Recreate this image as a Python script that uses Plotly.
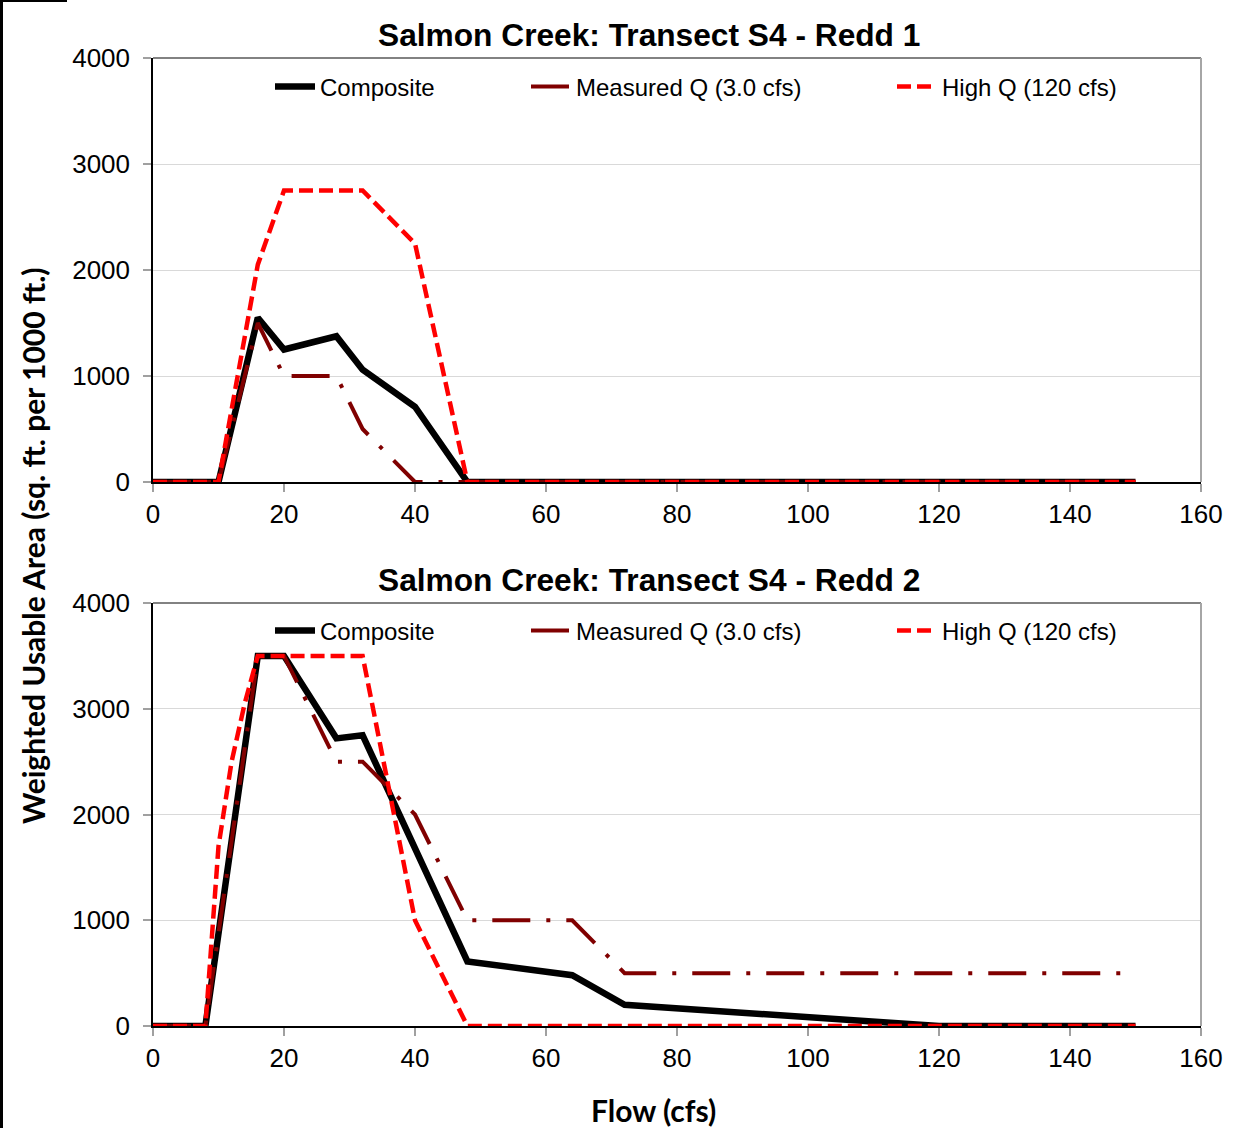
import plotly.graph_objects as go

# ---- data ----
flows = [0, 8, 10, 12, 14, 16, 20, 28, 32, 40, 48, 64, 72, 120, 150]

redd1_composite = [0, 0, 0, None, None, 1550, 1250, 1375, 1060, 710, 0, 0, 0, 0, 0]
redd1_measured = [0, 0, 0, None, None, 1500, 1000, 1000, 500, 0, 0, 0, 0, 0, 0]
redd1_highq = [0, 0, 0, None, None, 2050, 2750, 2750, 2750, 2250, 0, 0, 0, 0, 0]

redd2_composite = [0, 0, None, None, None, 3500, 3500, 2720, 2750, None, 610, 480, 200, 0, 0]
redd2_measured = [0, 0, None, None, None, 3500, 3500, 2500, 2500, 2000, 1000, 1000, 500, 500, 500]
redd2_highq = [0, 0, 1700, 2500, 3050, 3500, 3500, 3500, 3500, 1000, 0, 0, 0, 0, 0]

series_names = ["Composite", "Measured Q (3.0 cfs)", "High Q (120 cfs)"]
titles = ["Salmon Creek: Transect S4 - Redd 1", "Salmon Creek: Transect S4 - Redd 2"]
x_ticks = [0, 20, 40, 60, 80, 100, 120, 140, 160]
y_ticks = [0, 1000, 2000, 3000, 4000]

# ---- styles ----
styles = [
    dict(color="#000000", width=6.5, dash="solid"),
    dict(color="#800000", width=4, dash="38px,16px,4px,16px"),
    dict(color="#FF0000", width=4.5, dash="14px,6px"),
]

fig = go.Figure()
panels = [
    ([redd1_composite, redd1_measured, redd1_highq], "x", "y", ["legend", "legend3", "legend5"]),
    ([redd2_composite, redd2_measured, redd2_highq], "x2", "y2", ["legend2", "legend4", "legend6"]),
]
for vals, xa, ya, legs in panels:
    for name, v, st, leg in zip(series_names, vals, styles, legs):
        fig.add_trace(go.Scatter(
            x=flows, y=v, name=name, mode="lines", connectgaps=True,
            line=dict(color=st["color"], width=st["width"], dash=st["dash"]),
            xaxis=xa, yaxis=ya, legend=leg, showlegend=True,
        ))

W, H = 1247, 1128
ml, mr, mt, mb = 153, 46, 58, 102
pw = W - ml - mr
ph = H - mt - mb

def py(p):  # pixel y -> paper y
    return (H - mb - p) / ph

def px(p):  # pixel x -> paper x
    return (p - ml) / pw

tickfont = dict(family="Liberation Sans, Arial", size=26, color="#000000")
xax = dict(range=[0, 160], tickvals=x_ticks, showgrid=False, zeroline=False,
           showline=True, linecolor="#000000", linewidth=1.5,
           ticks="outside", ticklen=8, tickcolor="#a0a0a0", tickwidth=1.5,
           tickfont=tickfont, ticklabelstandoff=0, fixedrange=True)
yax = dict(range=[0, 4000], tickvals=y_ticks, showgrid=True, gridcolor="#d9d9d9",
           gridwidth=1, zeroline=False, showline=True, linecolor="#000000", linewidth=1.5,
           ticks="outside", ticklen=8, tickcolor="#a0a0a0", tickwidth=1.5,
           tickfont=tickfont, ticklabelstandoff=8, fixedrange=True)

top_dom = [py(482), 1.0]
bot_dom = [0.0, py(603)]

legfont = dict(family="Liberation Sans, Arial", size=24, color="#000000")
leg_common = dict(orientation="h", xanchor="left", yanchor="middle",
                  font=legfont, bgcolor="rgba(0,0,0,0)", itemwidth=40)

legend_x = [270, 526, 892]
legend_y = [87, 631]

fig.update_layout(
    width=W, height=H,
    margin=dict(l=ml, r=mr, t=mt, b=mb),
    paper_bgcolor="#ffffff", plot_bgcolor="#ffffff",
    xaxis=dict(**xax, domain=[0, 1], anchor="y"),
    yaxis=dict(**yax, domain=top_dom, anchor="x"),
    xaxis2=dict(**xax, domain=[0, 1], anchor="y2"),
    yaxis2=dict(**yax, domain=bot_dom, anchor="x2"),
    legend=dict(**leg_common, x=px(legend_x[0]), y=py(legend_y[0])),
    legend2=dict(**leg_common, x=px(legend_x[0]), y=py(legend_y[1])),
    legend3=dict(**leg_common, x=px(legend_x[1]), y=py(legend_y[0])),
    legend4=dict(**leg_common, x=px(legend_x[1]), y=py(legend_y[1])),
    legend5=dict(**leg_common, x=px(legend_x[2]), y=py(legend_y[0])),
    legend6=dict(**leg_common, x=px(legend_x[2]), y=py(legend_y[1])),
    showlegend=True,
)

titlefont = dict(family="Liberation Sans, Arial", size=31.7, color="#000000")
axtitlefont = dict(family="Lato, Liberation Sans", size=30, color="#000000")
annotations = [
    dict(text="<b>%s</b>" % titles[0], x=px(649), y=py(35), xref="paper", yref="paper",
         showarrow=False, xanchor="center", yanchor="middle", font=titlefont),
    dict(text="<b>%s</b>" % titles[1], x=px(649), y=py(580), xref="paper", yref="paper",
         showarrow=False, xanchor="center", yanchor="middle", font=titlefont),
    dict(text="<b>Weighted Usable Area (sq. ft. per 1000 ft.)</b>", x=px(33), y=py(546),
         xref="paper", yref="paper", showarrow=False, textangle=-90,
         xanchor="center", yanchor="middle", font=axtitlefont),
    dict(text="<b>Flow (cfs)</b>", x=px(653), y=py(1110), xref="paper", yref="paper",
         showarrow=False, xanchor="center", yanchor="middle", font=axtitlefont),
]
fig.update_layout(annotations=annotations)

shapes = []
for xr, yr in [("x", "y"), ("x2", "y2")]:
    # top border (dark gray) and right border (gray) of each plot area
    shapes.append(dict(type="line", xref=xr + " domain", yref=yr + " domain",
                       x0=0, x1=1, y0=1, y1=1, line=dict(color="#595959", width=1.5)))
    shapes.append(dict(type="line", xref=xr + " domain", yref=yr + " domain",
                       x0=1, x1=1, y0=0, y1=1, line=dict(color="#a6a6a6", width=2)))
# outer frame fragments of the original image
shapes.append(dict(type="line", xref="paper", yref="paper", x0=px(1.5), x1=px(1.5),
                   y0=py(0), y1=py(H), line=dict(color="#000000", width=3)))
shapes.append(dict(type="line", xref="paper", yref="paper", x0=px(0), x1=px(67),
                   y0=py(1), y1=py(1), line=dict(color="#000000", width=2)))
fig.update_layout(shapes=shapes)

fig.write_html("out.html", config={"displayModeBar": False},
               post_script="document.body.style.margin='0px';")
